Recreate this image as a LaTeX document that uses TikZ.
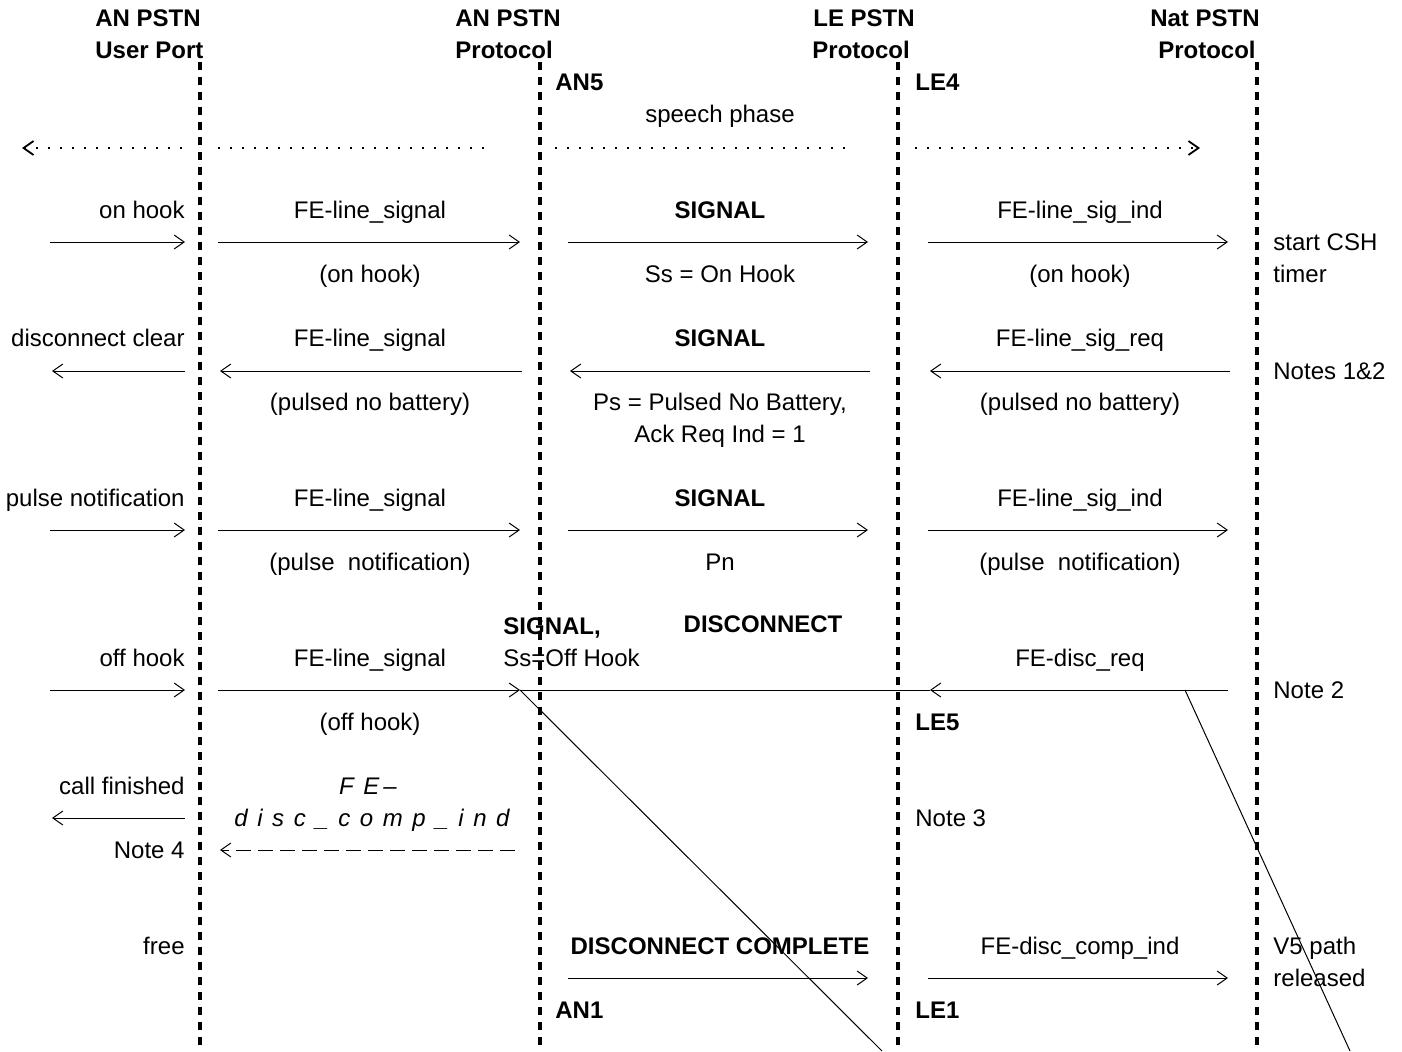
\documentclass[tikz,border=0pt]{standalone}
\usepackage{fontspec}
\setmainfont{Liberation Sans}
\usetikzlibrary{arrows.meta}

\begin{document}
\begin{tikzpicture}[x=0.5pt, y=-0.5pt,
    every node/.style={inner sep=0pt, text height=8.6pt, text depth=0pt,
      font=\fontsize{12}{14}\selectfont},
    bold/.style={font=\fontsize{12}{14}\selectfont\bfseries},
    iso/.style={font=\fontsize{12}{14}\selectfont\itshape\addfontfeature{LetterSpace=40}},
    life/.style={line width=1.7pt, dash pattern=on 4pt off 3.5pt},
    msg/.style={line width=0.5pt, -{Straight Barb[length=5pt, width=7pt]}},
    phase/.style={line width=0.9pt, dash pattern=on 1pt off 5pt}]
  \useasboundingbox (0,0) rectangle (1402,1051);

  % Headings
  \node[bold, anchor=west] (upA) at (95,18) {AN PSTN};
  \node[bold, anchor=west] (upB) at (95,50) {User Port};
  \node[bold, anchor=west] (anA) at (455,18) {AN PSTN};
  \node[bold, anchor=west] (anB) at (455,50) {Protocol};
  \node[bold, anchor=west] (leA) at (813,18) {LE PSTN};
  \node[bold, anchor=west] (leB) at (812,50) {Protocol};
  \node[bold, anchor=east] (natA) at (1260,18) {Nat PSTN};
  \node[bold, anchor=east] (natB) at (1256,50) {Protocol};

  % Lifelines
  \draw[life] (200,62) coordinate (up) -- (200,1051) coordinate (upE);
  \draw[life] (540,62) coordinate (an) -- (540,1051) coordinate (anE);
  \draw[life] (898,62) coordinate (le) -- (898,1051) coordinate (leE);
  \draw[life] (1257,62) coordinate (nat) -- (1257,1051) coordinate (natE);

  % States
  \node[bold, anchor=west] (an5) at (555,82) {AN5};
  \node[bold, anchor=west] (le4) at (915,82) {LE4};
  \node[bold, anchor=west] (le5) at (915,722) {LE5};
  \node[bold, anchor=west] (an1) at (555,1010) {AN1};
  \node[bold, anchor=west] (le1) at (915,1010) {LE1};

  % Speech phase
  \node (speech) at (720,114) {speech phase};
  \draw[phase, {Straight Barb[length=5pt, width=7pt]}-] (22,148) coordinate (sp0) -- (185,148) coordinate (sp1);
  \draw[phase] (218,148) coordinate (sp2) -- (490,148) coordinate (sp3);
  \draw[phase] (555,148) coordinate (sp4) -- (845,148) coordinate (sp5);
  \draw[phase, -{Straight Barb[length=5pt, width=7pt]}] (915,148) coordinate (sp6) -- (1200,148) coordinate (sp7);

  % On hook
  \node[anchor=east] (onh) at (185,210) {on hook};
  \draw[msg] (50,242) coordinate (onhS) -- (185,242) coordinate (onhT);
  \node (fls1) at (370,210) {FE-line\_signal};
  \draw[msg] (218,242) coordinate (fls1S) -- (520,242) coordinate (fls1T);
  \node (fls1b) at (370,274) {(on hook)};
  \node[bold] (sig1) at (720,210) {SIGNAL};
  \draw[msg] (568,242) coordinate (sig1S) -- (868,242) coordinate (sig1T);
  \node (sig1b) at (720,274) {Ss = On Hook};
  \node (ind1) at (1080,210) {FE-line\_sig\_ind};
  \draw[msg] (928,242) coordinate (ind1S) -- (1228,242) coordinate (ind1T);
  \node (ind1b) at (1080,274) {(on hook)};
  \node[anchor=west] (csh) at (1273,242) {start CSH};
  \node[anchor=west] (cshb) at (1273,274) {timer};

  % Disconnect clear
  \node[anchor=east] (dcl) at (185,338) {disconnect clear};
  \draw[msg] (185,371) coordinate (dclS) -- (52,371) coordinate (dclT);
  \node (fls2) at (370,338) {FE-line\_signal};
  \draw[msg] (522,371) coordinate (fls2S) -- (220,371) coordinate (fls2T);
  \node (fls2b) at (370,402) {(pulsed no battery)};
  \node[bold] (sig2) at (720,338) {SIGNAL};
  \draw[msg] (870,371) coordinate (sig2S) -- (570,371) coordinate (sig2T);
  \node (sig2b) at (720,402) {Ps = Pulsed No Battery,};
  \node (sig2c) at (720,434) {Ack Req Ind = 1};
  \node (req2) at (1080,338) {FE-line\_sig\_req};
  \draw[msg] (1230,371) coordinate (req2S) -- (930,371) coordinate (req2T);
  \node (req2b) at (1080,402) {(pulsed no battery)};
  \node[anchor=west] (n12) at (1273,371) {Notes 1\&2};

  % Pulse notification
  \node[anchor=east] (pn) at (185,498) {pulse notification};
  \draw[msg] (50,530) coordinate (pnS) -- (185,530) coordinate (pnT);
  \node (fls3) at (370,498) {FE-line\_signal};
  \draw[msg] (218,530) coordinate (fls3S) -- (520,530) coordinate (fls3T);
  \node (fls3b) at (370,562) {(pulse\ \ notification)};
  \node[bold] (sig3) at (720,498) {SIGNAL};
  \draw[msg] (568,530) coordinate (sig3S) -- (868,530) coordinate (sig3T);
  \node (sig3b) at (720,562) {Pn};
  \node (ind3) at (1080,498) {FE-line\_sig\_ind};
  \draw[msg] (928,530) coordinate (ind3S) -- (1228,530) coordinate (ind3T);
  \node (ind3b) at (1080,562) {(pulse\ \ notification)};

  % Off hook and disconnect
  \node[anchor=east] (ofh) at (185,658) {off hook};
  \draw[msg] (50,690) coordinate (ofhS) -- (185,690) coordinate (ofhT);
  \node (fls4) at (370,658) {FE-line\_signal};
  \draw[msg] (218,690) coordinate (fls4S) -- (520,690) coordinate (fls4T);
  \node (fls4b) at (370,722) {(off hook)};
  \node[bold, anchor=west] (sig4) at (503,626) {SIGNAL,};
  \node[anchor=west] (sig4b) at (503,658) {Ss=Off Hook};
  \node[bold] (disc) at (763,624) {DISCONNECT};
  \node (dreq) at (1080,658) {FE-disc\_req};
  \draw[msg] (1228,690) coordinate (dreqS) -- (930,690) coordinate (dreqT);
  \draw[line width=0.5pt] (fls4T) -- (dreqT);
  \node[anchor=west] (n2) at (1273,690) {Note 2};
  % crossing slants
  \draw[line width=0.5pt] (fls4T) -- (882,1051) coordinate (slA);
  \draw[line width=0.5pt] (1185,690) coordinate (kink) -- (1350,1051) coordinate (slB);

  % Call finished
  \node[anchor=east] (cf) at (185,786) {call finished};
  \draw[msg] (185,818) coordinate (cfS) -- (52,818) coordinate (cfT);
  \node[anchor=east] (n4) at (185,850) {Note 4};
  \node[iso] (dci1) at (368,786) {FE\,--};
  \node[iso] (dci2) at (372,818) {disc\_comp\_ind};
  \draw[msg, dash pattern=on 7.5pt off 3.5pt] (515,850) coordinate (dciS) -- (220,850) coordinate (dciT);
  \node[anchor=west] (n3) at (915,818) {Note 3};

  % Free
  \node[anchor=east] (fr) at (185,946) {free};
  \node[bold] (dcomp) at (720,946) {DISCONNECT COMPLETE};
  \draw[msg] (568,978) coordinate (dcompS) -- (868,978) coordinate (dcompT);
  \node (fdc) at (1080,946) {FE-disc\_comp\_ind};
  \draw[msg] (928,978) coordinate (fdcS) -- (1228,978) coordinate (fdcT);
  \node[anchor=west] (v5) at (1273,946) {V5 path};
  \node[anchor=west] (v5b) at (1273,978) {released};
\end{tikzpicture}
\end{document}
